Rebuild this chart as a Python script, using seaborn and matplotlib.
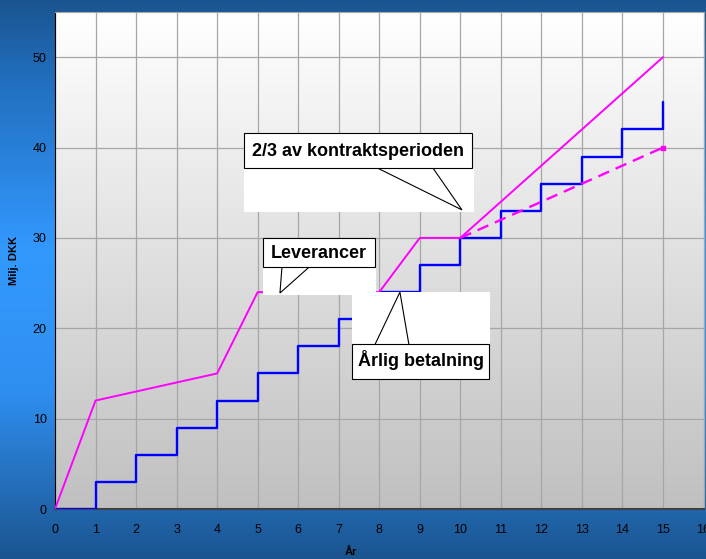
"""
Kontraktsperiode: leverancer vs. årlig betalning
"""

import numpy as np
import pandas as pd
import matplotlib
matplotlib.use("Agg")
import matplotlib.pyplot as plt
import seaborn as sns
from matplotlib.colors import LinearSegmentedColormap
from matplotlib.patches import Rectangle, Polygon

sns.set_style("white")
plt.rcParams['font.family'] = ['Liberation Sans', 'DejaVu Sans']
plt.rcParams['text.color'] = 'black'
plt.rcParams['axes.labelcolor'] = 'black'
plt.rcParams['xtick.color'] = 'black'
plt.rcParams['ytick.color'] = 'black'

# data
ar = list(range(16))
betalning = [0, 3, 6, 9, 12, 15, 18, 21, 24, 27, 30, 33, 36, 39, 42, 45]
lev_x = [0, 1, 4, 5, 8, 9, 10, 15]
lev_y = [0, 12, 15, 24, 24, 30, 30, 50]
alt_x = [10, 15]
alt_y = [30, 40]
x_ticks = list(range(17))
y_ticks = [0, 10, 20, 30, 40, 50]

fig = plt.figure(figsize=(7.06, 5.59), dpi=100)

# blå baggrund
bg = fig.add_axes([0, 0, 1, 1], zorder=-10)
bg_cmap = LinearSegmentedColormap.from_list(
    "bg", [(0, "#1a5590"), (0.15, "#2270c0"), (0.45, "#3399ff"),
           (0.7, "#2f8ff0"), (0.9, "#2268b0"), (1, "#1b5590")])
grad = np.linspace(0, 1, 256).reshape(-1, 1)
bg.imshow(grad, aspect='auto', cmap=bg_cmap, extent=[0, 1, 0, 1], vmin=0, vmax=1)
bg.axis('off')

ax = fig.add_axes([55 / 706, 50 / 559, 648.5 / 706, 497 / 559])

# plotområde, hvid -> grå
area_cmap = LinearSegmentedColormap.from_list("area", ["#ffffff", "#c0c0c0"])
ax.imshow(np.linspace(0, 1, 256).reshape(-1, 1), aspect='auto', cmap=area_cmap,
          extent=[0, 1, 0, 1], transform=ax.transAxes, zorder=0)

for x in x_ticks:
    ax.axvline(x, color='#a6a6a6', linewidth=0.9, zorder=1)
for y in y_ticks[1:]:
    ax.axhline(y, color='#a6a6a6', linewidth=0.9, zorder=1)

df_bet = pd.DataFrame({'ar': ar, 'mkr': betalning})
df_lev = pd.DataFrame({'ar': lev_x, 'mkr': lev_y})
df_alt = pd.DataFrame({'ar': alt_x, 'mkr': alt_y})

sns.lineplot(data=df_bet, x='ar', y='mkr', ax=ax, color='#0000ff', linewidth=1.7,
             drawstyle='steps-post', estimator=None, sort=False, zorder=3)
sns.lineplot(data=df_lev, x='ar', y='mkr', ax=ax, color='#ff00ff', linewidth=1.4,
             estimator=None, sort=False, zorder=4)
sns.lineplot(data=df_alt, x='ar', y='mkr', ax=ax, color='#ff00ff', linewidth=1.7,
             linestyle=(0, (5, 3)), estimator=None, sort=False, zorder=4)
ax.scatter(alt_x[-1:], alt_y[-1:], marker='s', s=6, color='#ff00ff', zorder=5)

ax.set_xlim(0, 16)
ax.set_ylim(0, 55)
ax.set_xticks(x_ticks)
ax.set_yticks(y_ticks)
ax.tick_params(axis='both', labelsize=9, colors='black', direction='out')
ax.tick_params(axis='x', length=3, pad=8, width=1)
ax.tick_params(axis='y', length=4, pad=2, width=1)
for lab in ax.get_xticklabels() + ax.get_yticklabels():
    lab.set_family(['Liberation Sans Narrow', 'Liberation Sans', 'DejaVu Sans'])
ax.set_xlabel('År', fontsize=8, fontweight='bold', va='center')
ax.set_ylabel('Milj. DKK', fontsize=8, fontweight='bold')
ax.xaxis.set_label_coords(0.457, -0.087)
ax.yaxis.set_label_coords(-0.055, 0.5)

ax.spines['left'].set_color('black')
ax.spines['bottom'].set_color('#404040')
ax.spines['bottom'].set_linewidth(1.5)
ax.spines['top'].set_color('#a6a6a6')
ax.spines['right'].set_color('#a6a6a6')


# talebobler
def callout(text, box, area, tail, tx, ty):
    bx0, by0, bx1, by1 = box
    ax0, ay0, ax1, ay1 = area
    ax.add_patch(Rectangle((ax0, ay0), ax1 - ax0, ay1 - ay0, facecolor='white',
                           edgecolor='none', zorder=8))
    ax.add_patch(Polygon(tail, closed=False, facecolor='white', edgecolor='black',
                         linewidth=0.8, zorder=9))
    ax.add_patch(Rectangle((bx0, by0), bx1 - bx0, by1 - by0, facecolor='white',
                           edgecolor='black', linewidth=0.8, zorder=10))
    ax.text(tx, ty, text, fontsize=13, fontweight='bold', color='black',
            ha='center', va='center', zorder=11)


callout('2/3 av kontraktsperioden',
        (4.66, 37.7, 10.29, 41.6), (4.66, 32.85, 10.34, 37.7),
        [(7.97, 37.7), (10.04, 33.1), (9.33, 37.7)], 7.48, 39.6)
callout('Leverancer',
        (5.13, 26.77, 7.90, 29.98), (5.13, 23.67, 7.92, 26.77),
        [(5.60, 26.77), (5.55, 23.9), (6.27, 26.77)], 6.51, 28.3)
callout('Årlig betalning',
        (7.33, 14.38, 10.71, 18.25), (7.33, 18.25, 10.73, 24.0),
        [(7.90, 18.25), (8.51, 24.0), (8.73, 18.25)], 9.02, 16.5)

fig.savefig('out.png', dpi=100)
